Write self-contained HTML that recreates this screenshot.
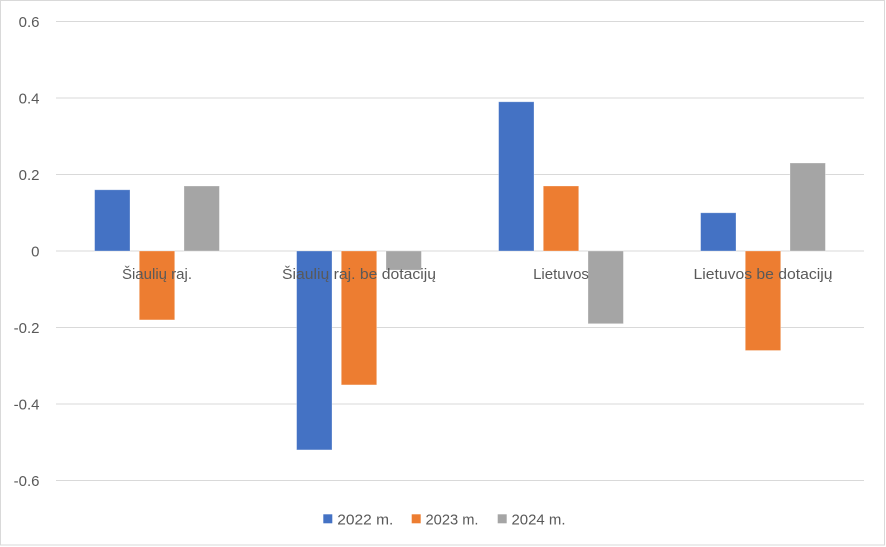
<!DOCTYPE html>
<html>
<head>
<meta charset="utf-8">
<style>
  html,body{margin:0;padding:0;background:#fff;}
  svg{display:block;}
  text{font-family:"Liberation Sans", Arial, sans-serif; fill:#595959;}
</style>
</head>
<body>
<svg width="886" height="547" viewBox="0 0 886 547" xmlns="http://www.w3.org/2000/svg">
  <rect x="0" y="0" width="886" height="547" fill="#fff"/>
  <rect x="0.5" y="0.5" width="884" height="544.5" fill="none" stroke="#d9d9d9" stroke-width="1"/>

  <!-- gridlines -->
  <g stroke="#d9d9d9" stroke-width="1">
    <line x1="56" y1="21.5" x2="864" y2="21.5"/>
    <line x1="56" y1="98" x2="864" y2="98"/>
    <line x1="56" y1="174.5" x2="864" y2="174.5"/>
    <line x1="56" y1="251" x2="864" y2="251"/>
    <line x1="56" y1="327.5" x2="864" y2="327.5"/>
    <line x1="56" y1="404" x2="864" y2="404"/>
    <line x1="56" y1="480.5" x2="864" y2="480.5"/>
  </g>

  <!-- y tick labels -->
  <g font-size="15" text-anchor="end">
    <text x="39.5" y="27">0.6</text>
    <text x="39.5" y="103.5">0.4</text>
    <text x="39.5" y="180">0.2</text>
    <text x="39.5" y="256.5">0</text>
    <text x="39.5" y="333">-0.2</text>
    <text x="39.5" y="409.5">-0.4</text>
    <text x="39.5" y="486">-0.6</text>
  </g>

  <!-- bars -->
  <g stroke="#ffffff" stroke-opacity="0.35" stroke-width="0.8">
    <rect x="94.6" y="189.8" width="35.4" height="61.2" fill="#4472C4"/>
    <rect x="139.3" y="251" width="35.4" height="68.9" fill="#ED7D31"/>
    <rect x="184" y="186" width="35.4" height="65" fill="#A5A5A5"/>
    <rect x="296.6" y="251" width="35.4" height="198.9" fill="#4472C4"/>
    <rect x="341.3" y="251" width="35.4" height="133.9" fill="#ED7D31"/>
    <rect x="386" y="251" width="35.4" height="19.1" fill="#A5A5A5"/>
    <rect x="498.6" y="101.8" width="35.4" height="149.2" fill="#4472C4"/>
    <rect x="543.3" y="186" width="35.4" height="65" fill="#ED7D31"/>
    <rect x="588" y="251" width="35.4" height="72.7" fill="#A5A5A5"/>
    <rect x="700.6" y="212.8" width="35.4" height="38.2" fill="#4472C4"/>
    <rect x="745.3" y="251" width="35.4" height="99.5" fill="#ED7D31"/>
    <rect x="790" y="163" width="35.4" height="88" fill="#A5A5A5"/>
  </g>

  <!-- category labels -->
  <g font-size="15" text-anchor="middle">
    <text x="157" y="279">Šiaulių raj.</text>
    <text x="359" y="279" textLength="154" lengthAdjust="spacingAndGlyphs">Šiaulių raj. be dotacijų</text>
    <text x="561" y="279">Lietuvos</text>
    <text x="763" y="279" textLength="139" lengthAdjust="spacingAndGlyphs">Lietuvos be dotacijų</text>
  </g>

  <!-- legend -->
  <g font-size="15">
    <rect x="323.3" y="514.3" width="9" height="9" fill="#4472C4"/>
    <text x="337.3" y="524.3" textLength="56" lengthAdjust="spacingAndGlyphs">2022 m.</text>
    <rect x="411.7" y="514.3" width="9" height="9" fill="#ED7D31"/>
    <text x="425.5" y="524.3" textLength="53" lengthAdjust="spacingAndGlyphs">2023 m.</text>
    <rect x="497.7" y="514.3" width="9" height="9" fill="#A5A5A5"/>
    <text x="511.5" y="524.3" textLength="54" lengthAdjust="spacingAndGlyphs">2024 m.</text>
  </g>
</svg>
</body>
</html>
